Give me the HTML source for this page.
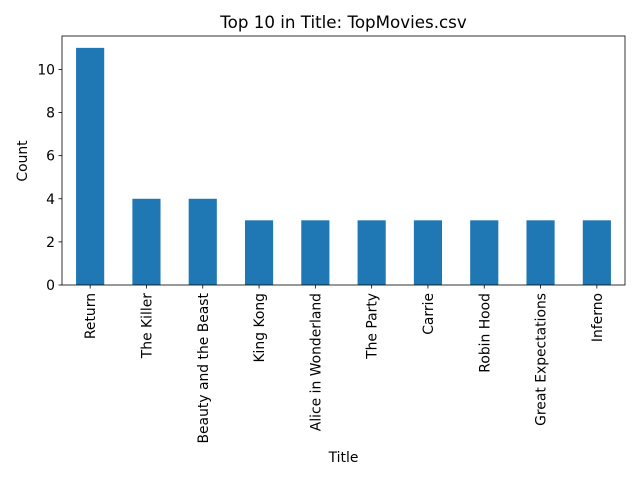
<!DOCTYPE html>
<html><head><meta charset="utf-8"><style>
body{margin:0;background:#fff;}
svg{font-family:"DejaVu Sans","Liberation Sans",sans-serif;}
</style></head><body>
<svg id="chart" width="640" height="480">
<rect width="640" height="480" fill="#fff"/>
<text x="343.5" y="28" text-anchor="middle" font-size="16.7">Top 10 in Title: TopMovies.csv</text>
<g id="plot"></g>
<text x="343.5" y="462" text-anchor="middle" font-size="13.9">Title</text>
<text transform="translate(27,161) rotate(-90)" text-anchor="middle" font-size="13.9">Count</text>
</svg>
<script>
const categories=["Return","The Killer","Beauty and the Beast","King Kong","Alice in Wonderland","The Party","Carrie","Robin Hood","Great Expectations","Inferno"];
const counts=[11,4,4,3,3,3,3,3,3,3];
const yTicks=[0,2,4,6,8,10];
const L=62,R=625,T=36,B=285;
const ns="http://www.w3.org/2000/svg";
const g=document.getElementById('plot');
const ymax=Math.max(...counts)*1.05;
const y=v=>B-(v/ymax)*(B-T);
const step=(R-L)/categories.length;
const x=i=>L+(i+0.5)*step;
function mk(t,a){const e=document.createElementNS(ns,t);for(const k in a)e.setAttribute(k,a[k]);g.appendChild(e);return e;}
counts.forEach((c,i)=>{
 const r=mk('rect',{x:x(i)-step/4,y:y(c),width:step/2,height:B-y(c),fill:'#1f77b4'});
 
 
 mk('line',{x1:x(i),x2:x(i),y1:B,y2:B+3.5,stroke:'#000','stroke-width':0.8});
 const t=mk('text',{transform:`translate(${x(i)+5},${B+8}) rotate(-90)`,'text-anchor':'end','font-size':13.9});
 t.textContent=categories[i];
 
 
});
yTicks.forEach(v=>{
 mk('line',{x1:L-3.5,x2:L,y1:y(v),y2:y(v),stroke:'#000','stroke-width':0.8});
 const t=mk('text',{x:L-7,y:y(v)+5,'text-anchor':'end','font-size':13.9});
 t.textContent=v;
 
 
});
const f=mk('rect',{x:L,y:T,width:R-L,height:B-T,fill:'none',stroke:'#000','stroke-width':0.8});


</script>
</body></html>
